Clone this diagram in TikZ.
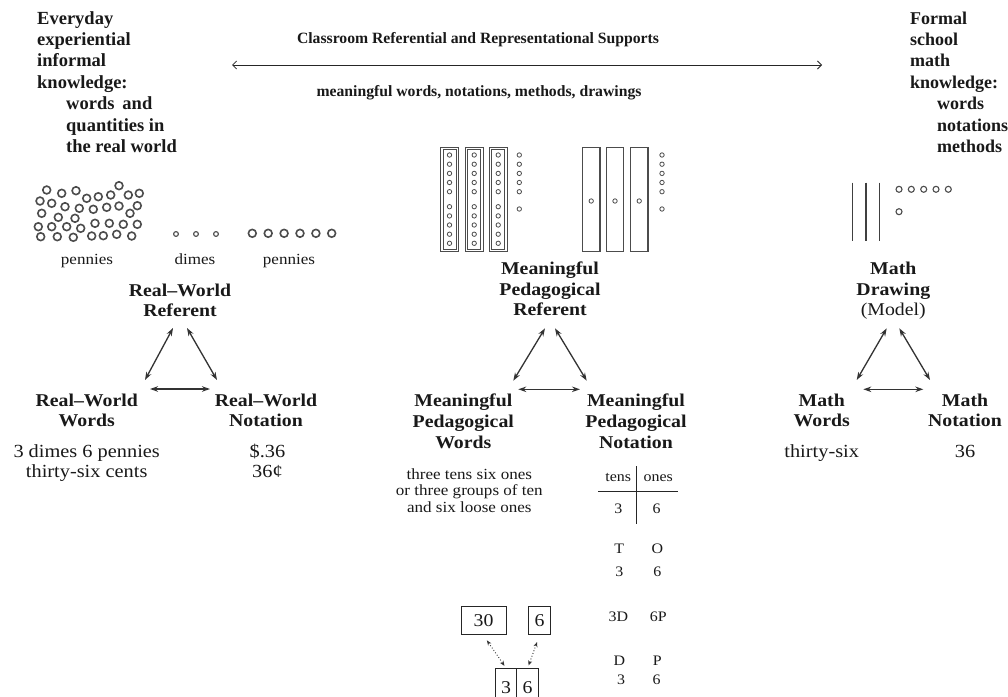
\documentclass[tikz,border=0pt]{standalone}
\usepackage{fontspec}
\setmainfont{Liberation Serif}
\newfontfamily\pal{Liberation Serif}[FakeStretch=1.1]
\usetikzlibrary{arrows.meta}
\newcommand{\mlc}[1]{\begin{tabular}[t]{@{}c@{}}#1\end{tabular}}
\newcommand{\mll}[1]{\begin{tabular}[t]{@{}l@{}}#1\end{tabular}}
\begin{document}
\begin{tikzpicture}[x=1pt,y=-1pt,
  lbl/.style={inner sep=0pt, anchor=base, text=black!90, font=\pal\bfseries\fontsize{18}{20.8}\selectfont},
  val/.style={inner sep=0pt, anchor=base, text=black!90, font=\pal\fontsize{18.5}{20}\selectfont},
  lblsmall/.style={inner sep=0pt, anchor=base, text=black!90, font=\pal\fontsize{15.5}{16.5}\selectfont},
  lbltiny/.style={inner sep=0pt, anchor=base, text=black!90, font=\pal\fontsize{14.5}{16}\selectfont},
  headtxt/.style={inner sep=0pt, anchor=base west, text=black!90, font=\bfseries\fontsize{18.5}{21.4}\selectfont},
  supptxt/.style={inner sep=0pt, anchor=base, text=black!90, font=\bfseries\fontsize{15.7}{18}\selectfont},
  coin/.style={draw=black!70, line width=1.6pt},
  dime/.style={draw=black!70, line width=1.1pt},
  bead/.style={draw=black!70, line width=0.8pt},
  rodd/.style={draw=black!70, line width=0.8pt},
  rods/.style={draw=black!70, line width=1.1pt},
  tri/.style={{Stealth[length=8pt,width=5.5pt]}-{Stealth[length=8pt,width=5.5pt]}, line width=1.3pt, draw=black!80},
  toparr/.style={{Straight Barb[length=4pt,width=8pt]}-{Straight Barb[length=4pt,width=8pt]}, line width=0.8pt, draw=black!85},
  numbox/.style={draw=black!85, line width=1pt, inner sep=0pt, text=black!90, font=\pal\fontsize{18}{20}\selectfont},
  dotarr/.style={{Stealth[length=5pt,width=4pt]}-{Stealth[length=5pt,width=4pt]}, dotted, line width=0.9pt, draw=black!80},
  tbl/.style={draw=black!85, line width=1.1pt},
]
\useasboundingbox (0,0) rectangle (1008,696);
\fill[white] (0,0) rectangle (1008,696);

% ---------- top texts ----------
\node[headtxt] (everyday) at (37,24) {\mll{Everyday\\experiential\\informal\\knowledge:\\\hspace*{29pt}words\hspace{8pt}and\\\hspace*{29pt}quantities in\\\hspace*{29pt}the real world}};
\node[headtxt, font=\bfseries\fontsize{18}{21.4}\selectfont] (formal) at (910,24) {\mll{Formal\\school\\math\\knowledge:\\\hspace*{27pt}words\\\hspace*{27pt}notations\\\hspace*{27pt}methods}};
\node[supptxt] (crs) at (478,43.5) {Classroom Referential and Representational Supports};
\node[supptxt] (mwn) at (479,96.9) {meaningful words, notations, methods, drawings};
\coordinate (topL) at (232,65);
\coordinate (topR) at (822,65);
\draw[toparr] (topL) -- (topR);

% ---------- real-world drawing ----------
\foreach \p in {(46.7,190),(61.7,193.3),(76,190.7),(86.7,198.3),(98.3,196.7),(110.7,195),(119,185.7),(128.3,195),(139.3,193.3),
 (40,201),(51.7,203.3),(65,206.7),(79.3,208.3),(93.3,209.3),(106.7,207.3),(119,206),(137.3,205.7),
 (41.7,213.3),(58.3,217.3),(75,218.3),(130,213.3),
 (38.3,226.7),(51.7,226.7),(66.7,226.7),(80.7,228.3),(95,223.3),(109.3,223.3),(123.3,224.3),(137.3,224.3),
 (40.7,236.7),(57.3,236.7),(73.3,237.3),(91.7,236),(103.3,235.7),(116.7,234.3),(131.7,236)}
  \draw[coin] \p circle[radius=3.9];
\foreach \x in {176,196,216} \draw[dime] (\x,234) circle[radius=2.4];
\foreach \x in {252.3,268.2,284.1,300,315.9,331.7} \draw[coin] (\x,233.3) circle[radius=3.9];
\node[lblsmall] (pen1) at (87,264) {pennies};
\node[lblsmall] (dimes) at (195,264) {dimes};
\node[lblsmall] (pen2) at (289,264) {pennies};

% ---------- pedagogical drawing ----------
\foreach \x in {449.5,474.2,498.2} {
  \draw[rodd] (\x-8.8,147.3) rectangle (\x+8.8,251.7);
  \draw[rodd] (\x-6.6,149.5) rectangle (\x+6.6,249.5);
  \foreach \y in {155,164.2,173.4,182.5,191.7,206.7,215.9,225,234.2,243.3}
    \draw[bead] (\x,\y) circle[radius=2.2];
}
\foreach \y in {155,164.2,173.4,182.5,191.7,209} \draw[bead] (519.3,\y) circle[radius=2.2];
\foreach \x in {591.2,615,639.2} {
  \draw[rods] (\x-8.8,147.3) rectangle (\x+8.8,251.7);
  \draw[bead] (\x,201) circle[radius=2.2];
}
\foreach \y in {155,164.2,173.4,182.5,191.7,209} \draw[bead] (662,\y) circle[radius=2.2];

% ---------- math drawing ----------
\foreach \x in {852.7,866,879.3} \draw[draw=black!75, line width=1.5pt] (\x,182.7) -- (\x,240.7);
\foreach \x in {899,911.3,923.7,936,948.3} \draw[dime] (\x,189.3) circle[radius=3];
\draw[dime] (899,211.7) circle[radius=3];

% ---------- triangle labels ----------
\node[lbl] (rwref) at (180,296) {\mlc{Real–World\\Referent}};
\node[lbl] (rwwords) at (86.7,406) {\mlc{Real–World\\Words}};
\node[lbl] (rwnot) at (266,406) {\mlc{Real–World\\Notation}};
\node[val] (rwwv) at (86.7,457.7) {\mlc{3 dimes 6 pennies\\thirty-six cents}};
\node[val] (rwnv) at (267.5,457.7) {\mlc{\$.36\\36¢}};

\node[lbl] (mpref) at (550,274.3) {\mlc{Meaningful\\Pedagogical\\Referent}};
\node[lbl] (mpwords) at (463.3,406.7) {\mlc{Meaningful\\Pedagogical\\Words}};
\node[lbl] (mpnot) at (636,406.7) {\mlc{Meaningful\\Pedagogical\\Notation}};

\node[lbl] (mdraw) at (893.3,274.3) {\mlc{Math\\Drawing\\\mdseries(Model)}};
\node[lbl] (mwords) at (821.7,406) {\mlc{Math\\Words}};
\node[lbl] (mnot) at (965,406) {\mlc{Math\\Notation}};
\node[val] (mwv) at (821.7,457.7) {thirty-six};
\node[val] (mnv) at (965,457.7) {36};

% ---------- triangle arrows ----------
\coordinate (la1) at (173,328);   \coordinate (la2) at (145,380);
\coordinate (lb1) at (187,328);   \coordinate (lb2) at (217,380);
\coordinate (lc1) at (150,389);   \coordinate (lc2) at (210,389);
\coordinate (ma1) at (545,328.3); \coordinate (ma2) at (513.3,380.7);
\coordinate (mb1) at (555,328.3); \coordinate (mb2) at (586.7,380.7);
\coordinate (mc1) at (518.3,389.3); \coordinate (mc2) at (580,389.3);
\coordinate (ra1) at (886.7,328.3); \coordinate (ra2) at (856.7,380);
\coordinate (rb1) at (899.3,328.3); \coordinate (rb2) at (930,380);
\coordinate (rc1) at (863.3,389.3); \coordinate (rc2) at (923.3,389.3);
\draw[tri] (la1) -- (la2);
\draw[tri] (lb1) -- (lb2);
\draw[tri] (lc1) -- (lc2);
\draw[tri] (ma1) -- (ma2);
\draw[tri] (mb1) -- (mb2);
\draw[tri] (mc1) -- (mc2);
\draw[tri] (ra1) -- (ra2);
\draw[tri] (rb1) -- (rb2);
\draw[tri] (rc1) -- (rc2);

% ---------- pedagogical words / notation ----------
\node[lblsmall] (three) at (469.3,479) {\mlc{three tens six ones\\or three groups of ten\\and six loose ones}};

\node[lbltiny] (tens) at (618.3,481.3) {tens};
\node[lbltiny] (ones) at (658.3,481.3) {ones};
\coordinate (hl1) at (598.3,491.7); \coordinate (hl2) at (678.3,491.7);
\coordinate (vl1) at (636.7,466);   \coordinate (vl2) at (636.7,524);
\draw[tbl] (hl1) -- (hl2);
\draw[tbl] (vl1) -- (vl2);
\node[lbltiny] (tv3) at (618.3,513) {3};
\node[lbltiny] (tv6) at (656.7,513) {6};
\node[lbltiny] (tT) at (619.3,553) {T};
\node[lbltiny] (tO) at (657.3,553) {O};
\node[lbltiny] (tT3) at (619.3,576.3) {3};
\node[lbltiny] (tO6) at (657.3,576.3) {6};
\node[lbltiny] (t3D) at (618.3,621.3) {3D};
\node[lbltiny] (t6P) at (658.3,621.3) {6P};
\node[lbltiny] (tD) at (619.3,665.3) {D};
\node[lbltiny] (tP) at (657.3,665.3) {P};
\node[lbltiny] (tD3) at (621,684) {3};
\node[lbltiny] (tP6) at (656.7,684) {6};

\node[numbox, minimum width=45pt, minimum height=28.3pt] (b30) at (483.5,620.8) {30};
\node[numbox, minimum width=22.4pt, minimum height=28.3pt] (b6) at (539.5,620.8) {6};
\node[numbox, minimum width=21.35pt, minimum height=38pt, anchor=north west] (c3) at (495,668.3) {3};
\node[numbox, minimum width=21.35pt, minimum height=38pt, anchor=north west] (c6) at (516.35,668.3) {6};
\draw[dotarr, shorten <=6pt, shorten >=3pt] (b30.south) -- (c3.north);
\draw[dotarr, shorten <=7pt, shorten >=3pt] (b6.south) -- (c6.north);
\end{tikzpicture}
\end{document}
